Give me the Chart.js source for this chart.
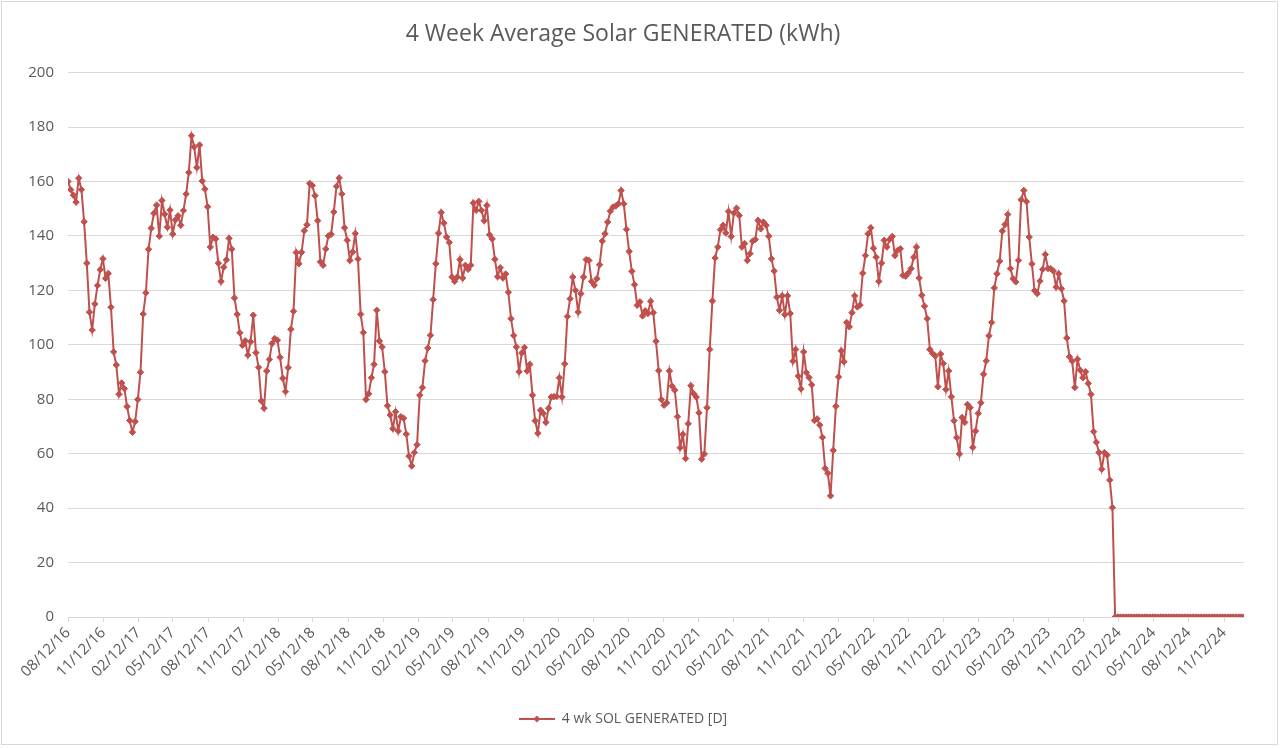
<!DOCTYPE html>
<html>
<head>
<meta charset="utf-8">
<script src="https://cdn.jsdelivr.net/npm/chart.js@4.4.1/dist/chart.umd.min.js"></script>
<style>
    body { margin: 0; background: #fff; }
    #wrap { position: absolute; left: 1px; top: 1px; width: 1275px; height: 742px; border: 1px solid #d9d9d9; }
</style>
</head>
<body>
<div id="wrap"><canvas id="solarLine" width="1275" height="742"></canvas></div>
<script>
// DATA

var chartTitle = '4 Week Average Solar GENERATED (kWh)';
var seriesName = '4 wk SOL GENERATED [D]';

// first week of the series, one value per week after that
var firstWeek = '08/12/16';
var daysPerWeek = 7;

var tickLabels = ['08/12/16', '11/12/16', '02/12/17', '05/12/17', '08/12/17', '11/12/17',
    '02/12/18', '05/12/18', '08/12/18', '11/12/18', '02/12/19', '05/12/19', '08/12/19',
    '11/12/19', '02/12/20', '05/12/20', '08/12/20', '11/12/20', '02/12/21', '05/12/21',
    '08/12/21', '11/12/21', '02/12/22', '05/12/22', '08/12/22', '11/12/22', '02/12/23',
    '05/12/23', '08/12/23', '11/12/23', '02/12/24', '05/12/24', '08/12/24', '11/12/24'];

var yTicks = [0, 20, 40, 60, 80, 100, 120, 140, 160, 180, 200];

var solarGenerated = [
    160, 157, 155, 152.4, 161.2, 157, 145.2, 130, 112, 105.4,
    115, 121.8, 127.6, 131.6, 124.4, 126.2, 113.8, 97.4, 92.6, 81.8,
    86, 83.9, 77.3, 72.2, 67.9, 71.8, 79.9, 89.9, 111.3, 119.1,
    135.1, 142.8, 148.3, 151.3, 139.9, 153, 148, 143.2, 149.5, 140.7,
    145.9, 147.4, 143.9, 149.3, 155.4, 163.3, 176.8, 172.7, 165.1, 173.4,
    160.2, 157.2, 150.7, 135.9, 139.5, 138.9, 130, 123.3, 128.5, 131.2,
    139.1, 135.1, 117.2, 111.2, 104.4, 99.8, 101.5, 96.2, 101.1, 110.9,
    97.1, 91.7, 79.4, 76.7, 90.4, 94.6, 100.5, 102.3, 101.7, 95.4,
    87.7, 82.8, 91.6, 105.7, 112.3, 133.9, 129.8, 134, 141.9, 144.1,
    159.3, 158.5, 154.8, 145.6, 130.5, 129.2, 135.2, 140, 140.6, 148.8,
    158.2, 161.3, 155.4, 143, 138.4, 131, 134.1, 140.9, 131.5, 111.2,
    104.5, 79.9, 82, 87.9, 92.8, 112.7, 101.4, 99.2, 90.1, 77.6,
    74.2, 69.2, 75.4, 68.3, 73.6, 73, 67.2, 59.1, 55.5, 60.4,
    63.3, 81.5, 84.3, 94.1, 98.8, 103.5, 116.6, 129.8, 141, 148.6,
    144.7, 139.6, 137.6, 124.9, 123.3, 124.9, 131.3, 124.5, 129.2, 127.7,
    129.2, 152.1, 149.4, 152.7, 149.4, 145.6, 151.2, 140.4, 138.9, 131.4,
    125, 128.3, 124.5, 126, 119.3, 109.6, 103.4, 99.2, 90.1, 97,
    99, 90.4, 92.8, 81.5, 72.1, 67.5, 76, 74.8, 71.5, 76.7,
    80.8, 81, 81, 87.9, 80.8, 93, 110.4, 116.9, 124.9, 120,
    112, 118.8, 124.9, 131.3, 131, 123.3, 121.9, 124.3, 129.4, 138.1,
    140.8, 145.1, 149.1, 150.6, 151, 151.8, 156.7, 151.8, 142.4, 134.3,
    127, 122.1, 114.5, 115.8, 110.6, 112.5, 111.5, 116, 111.8, 101.3,
    90.5, 79.9, 77.8, 78.7, 90.4, 84.8, 83.3, 73.6, 62.2, 67.1,
    58.2, 71, 85, 82.1, 80.8, 75, 58, 59.9, 76.9, 98.3,
    116.1, 131.9, 135.9, 142.3, 143.9, 141.1, 149, 139.8, 148.4, 150.2,
    147.5, 135.9, 137.2, 131, 133.5, 138.1, 138.7, 145.7, 142.6, 145.1,
    143.9, 139.9, 131.6, 127.1, 117.5, 112.7, 118, 111.1, 118, 111.5,
    94, 98.3, 88.5, 83.8, 97.4, 89.8, 88, 85.3, 72.2, 72.8,
    70.5, 66, 54.6, 52.8, 44.5, 61.2, 77.4, 88.2, 97.8, 93.8,
    108.2, 106.6, 111.8, 118, 113.9, 114.6, 126.3, 132.8, 140.8, 143,
    135.5, 132.2, 123.3, 130, 138.4, 135.9, 138.7, 139.8, 132.8, 134.7,
    135.3, 125.5, 125.2, 126.4, 128, 132.2, 135.9, 124.5, 118.2, 114.2,
    109.6, 98.3, 96.8, 95.9, 84.6, 96.6, 93.1, 83.6, 90.4, 80.9,
    72.1, 65.9, 59.9, 73.3, 71.5, 78.1, 76.9, 62.3, 68.3, 74.8,
    78.7, 89.2, 94.1, 103.3, 108.2, 120.9, 126.1, 130.7, 141.8, 144.2,
    147.9, 128, 124.3, 123.1, 131, 153.3, 156.7, 152.6, 139.6, 129.7,
    119.9, 118.8, 123.4, 127.7, 133.2, 128, 128, 127.1, 121.2, 126.1,
    120.6, 116.1, 102.5, 95.6, 94, 84.3, 94.7, 90.7, 87.9, 90.1,
    85.8, 81.8, 68.1, 64.2, 60.4, 54.3, 60.4, 59.5, 50.3, 40.2,
    0, 0, 0, 0, 0, 0, 0, 0, 0, 0,
    0, 0, 0, 0, 0, 0, 0, 0, 0, 0,
    0, 0, 0, 0, 0, 0, 0, 0, 0, 0,
    0, 0, 0, 0, 0, 0, 0, 0, 0, 0,
    0, 0, 0, 0, 0, 0, 0, 0, 0
];

var lineColor = '#c0504d';
var textColor = '#595959';
var gridColor = '#d9d9d9';

// DATES -> DAYS FROM FIRST WEEK

function dayOf(label) {
    var p = label.split('/');
    return Date.UTC(2000 + parseInt(p[2]), parseInt(p[0]) - 1, parseInt(p[1])) / 86400000;
}

var day0 = dayOf(firstWeek);
var tickDays = tickLabels.map(function (l) { return dayOf(l) - day0; });
var points = solarGenerated.map(function (v, i) { return { x: i * daysPerWeek, y: v }; });
var lastDay = points[points.length - 1].x;

// legend swatch: line with a diamond in the middle
var swatch = document.createElement('canvas');
swatch.width = 36;
swatch.height = 10;
var sctx = swatch.getContext('2d');
sctx.strokeStyle = lineColor;
sctx.lineWidth = 2;
sctx.beginPath();
sctx.moveTo(0, 5);
sctx.lineTo(36, 5);
sctx.stroke();
sctx.fillStyle = lineColor;
sctx.beginPath();
sctx.moveTo(18, 1.5);
sctx.lineTo(21.5, 5);
sctx.lineTo(18, 8.5);
sctx.lineTo(14.5, 5);
sctx.closePath();
sctx.fill();

// CHART

function plotGraph() {
    var ctx = document.getElementById('solarLine');

    var solarLine = new Chart(ctx, {
        type: 'line',
        data: {
            datasets: [{
                label: seriesName,
                data: points,
                borderColor: lineColor,
                backgroundColor: lineColor,
                borderWidth: 2,
                pointStyle: 'rectRot',
                pointRadius: 3.2,
                pointBorderWidth: 1,
                tension: 0
            }]
        },
        options: {
            responsive: false,
            animation: false,
            layout: { padding: { left: 0, right: 33, top: 0, bottom: 8 } },
            plugins: {
                title: {
                    display: true,
                    text: chartTitle,
                    color: textColor,
                    font: { family: 'Open Sans', size: 23, weight: 'normal' },
                    padding: { top: 19, bottom: 24 }
                },
                legend: {
                    position: 'bottom',
                    labels: {
                        color: textColor,
                        font: { family: 'Open Sans', size: 14 },
                        usePointStyle: true,
                        pointStyleWidth: 36,
                        padding: 10,
                        generateLabels: function (chart) {
                            return [{ text: seriesName, pointStyle: swatch, fontColor: textColor, datasetIndex: 0, lineWidth: 0 }];
                        }
                    }
                },
                tooltip: { enabled: false }
            },
            scales: {
                x: {
                    type: 'linear',
                    min: 0,
                    max: lastDay,
                    afterBuildTicks: function (scale) {
                        scale.ticks = tickDays.map(function (d) { return { value: d }; });
                    },
                    afterFit: function (scale) { scale.height = 85; },
                    ticks: {
                        autoSkip: false,
                        maxRotation: 45,
                        minRotation: 45,
                        padding: 2,
                        color: textColor,
                        font: { family: 'Open Sans', size: 15 },
                        callback: function (value) {
                            var k = tickDays.indexOf(value);
                            return k === -1 ? '' : tickLabels[k];
                        }
                    },
                    grid: { drawOnChartArea: false, color: gridColor, tickLength: 5 },
                    border: { color: gridColor }
                },
                y: {
                    min: yTicks[0],
                    max: yTicks[yTicks.length - 1],
                    afterBuildTicks: function (scale) {
                        scale.ticks = yTicks.map(function (v) { return { value: v }; });
                    },
                    afterFit: function (scale) { scale.width = 66; },
                    ticks: {
                        padding: 14,
                        color: textColor,
                        font: { family: 'Open Sans', size: 15 }
                    },
                    grid: { color: gridColor, drawTicks: false },
                    border: { display: false }
                }
            }
        }
    });
}

plotGraph();
</script>
</body>
</html>
